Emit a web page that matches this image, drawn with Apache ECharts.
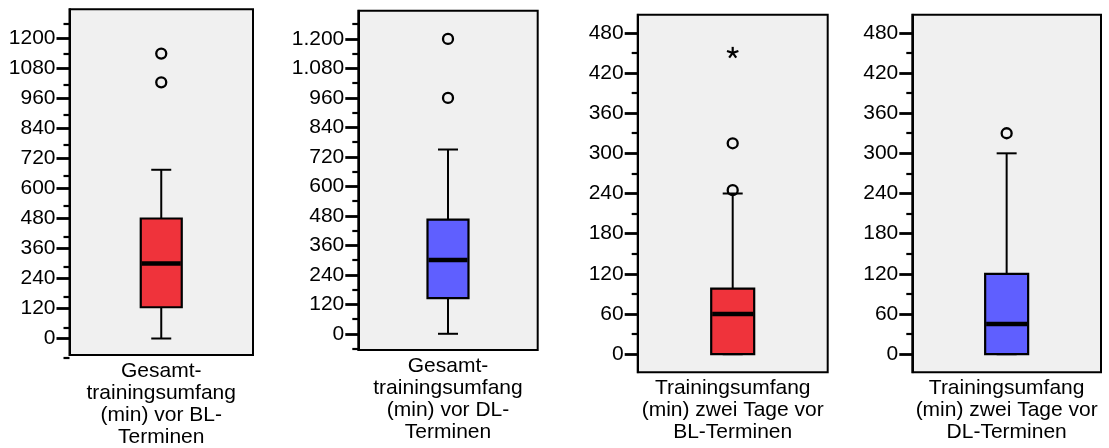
<!DOCTYPE html>
<html>
<head>
<meta charset="utf-8">
<script src="https://cdn.jsdelivr.net/npm/echarts@6/dist/echarts.min.js"></script>
<style>
  html, body { margin: 0; padding: 0; background: #ffffff; }
  #chart { width: 1109px; height: 448px; }
</style>
</head>
<body>
<div id="chart"></div>
<script>
// ---- data ----
const categories = [
  'Gesamt-\ntrainingsumfang\n(min) vor BL-\nTerminen',
  'Gesamt-\ntrainingsumfang\n(min) vor DL-\nTerminen',
  'Trainingsumfang\n(min) zwei Tage vor\nBL-Terminen',
  'Trainingsumfang\n(min) zwei Tage vor\nDL-Terminen'
];
// five-number summaries: [lower whisker, Q1, median, Q3, upper whisker]
const boxBL = [0, 125, 300, 480, 675];
const boxDL = [0, 145, 300, 465, 750];
const boxBL2 = [0, 0, 60, 98, 240];
const boxDL2 = [0, 0, 45, 120, 300];
// outliers (circles) and extreme values (asterisks)
const outBL = [1140, 1025];
const outDL = [1200, 960];
const outBL2 = [315, 245];
const outDL2 = [330];
const extBL2 = [450];

// axis ticks
const ticksTotal = [0, 120, 240, 360, 480, 600, 720, 840, 960, 1080, 1200];
const minorTotal = [-60, 60, 180, 300, 420, 540, 660, 780, 900, 1020, 1140, 1260];
const labelsTotalBL = ['0', '120', '240', '360', '480', '600', '720', '840', '960', '1080', '1200'];
const labelsTotalDL = ['0', '120', '240', '360', '480', '600', '720', '840', '960', '1.080', '1.200'];
const ticksTwoDays = [0, 60, 120, 180, 240, 300, 360, 420, 480];
const minorTwoDays = [30, 90, 150, 210, 270, 330, 390, 450];
const labelsTwoDays = ['0', '60', '120', '180', '240', '300', '360', '420', '480'];

// ---- panel setup ----
const RED = '#EF333B';
const BLUE = '#5F5FFF';
const FONT = "'Liberation Sans', Arial, sans-serif";

const panels = [
  { box: boxBL, out: outBL, ext: [], ticks: ticksTotal, minor: minorTotal, labels: labelsTotalBL,
    fill: RED, rect: { left: 69.5, top: 9.3, width: 183.5, height: 350 }, range: [-66, 1317], boxW: 41 },
  { box: boxDL, out: outDL, ext: [], ticks: ticksTotal, minor: minorTotal, labels: labelsTotalDL,
    fill: BLUE, rect: { left: 358.3, top: 10.7, width: 179.4, height: 339.3 }, range: [-66, 1315], boxW: 41 },
  { box: boxBL2, out: outBL2, ext: extBL2, ticks: ticksTwoDays, minor: minorTwoDays, labels: labelsTwoDays,
    fill: RED, rect: { left: 637.7, top: 14.7, width: 190, height: 357.6 }, range: [-27, 507], boxW: 43 },
  { box: boxDL2, out: outDL2, ext: [], ticks: ticksTwoDays, minor: minorTwoDays, labels: labelsTwoDays,
    fill: BLUE, rect: { left: 912.3, top: 14.7, width: 188.7, height: 357.6 }, range: [-27, 507], boxW: 43 }
];

const CAP_W = 20;

function lineEl(x1, y1, x2, y2, w) {
  return { type: 'line', shape: { x1, y1, x2, y2 }, style: { stroke: '#000', lineWidth: w } };
}

function boxRenderer(fill, boxW) {
  return function (params, api) {
    const c = api.value(0);
    const cx = api.coord([c, 0])[0];
    const y = d => api.coord([c, api.value(d)])[1];
    const yMin = y(1), yQ1 = y(2), yMed = y(3), yQ3 = y(4), yMax = y(5);
    const hw = boxW / 2, cw = CAP_W / 2;
    return {
      type: 'group',
      children: [
        lineEl(cx, yQ3, cx, yMax, 2),
        lineEl(cx - cw, yMax, cx + cw, yMax, 2),
        lineEl(cx, yQ1, cx, yMin, 2),
        lineEl(cx - cw, yMin, cx + cw, yMin, 2),
        { type: 'rect', shape: { x: cx - hw, y: yQ3, width: boxW, height: yQ1 - yQ3 },
          style: { fill: fill, stroke: '#000', lineWidth: 2.2 } },
        lineEl(cx - hw + 1, yMed, cx + hw - 1, yMed, 4.5)
      ]
    };
  };
}

// five-armed asterisk for extreme values
function asteriskRenderer(params, api) {
  const p = api.coord([api.value(0), api.value(1)]);
  const r = 6;
  const arms = [];
  for (let k = 0; k < 5; k++) {
    const a = -Math.PI / 2 + k * 2 * Math.PI / 5;
    arms.push(lineEl(p[0], p[1], p[0] + r * Math.cos(a), p[1] + r * Math.sin(a), 2.2));
  }
  return { type: 'group', children: arms };
}

const grids = [], xAxes = [], yAxes = [], series = [];

panels.forEach((p, i) => {
  // framed plot area with major ticks and labels
  grids.push(Object.assign({ show: true, backgroundColor: '#F0F0F0', borderColor: '#000', borderWidth: 2 }, p.rect));
  // overlay with the same rectangle carrying the minor ticks
  grids.push(Object.assign({ show: false }, p.rect));

  const gMain = 2 * i, gMinor = 2 * i + 1;

  xAxes.push({
    gridIndex: gMain, type: 'category', data: [categories[i]],
    axisLine: { show: false }, axisTick: { show: false }, splitLine: { show: false },
    axisLabel: { interval: 0, margin: 5, color: '#000', fontSize: 21, lineHeight: 22, fontFamily: FONT, align: 'center' }
  });
  xAxes.push({ gridIndex: gMinor, type: 'category', data: [categories[i]], show: false });

  yAxes.push({
    gridIndex: gMain, type: 'value', min: p.range[0], max: p.range[1], position: 'left',
    axisLine: { show: true, lineStyle: { color: '#000', width: 2 } },
    axisTick: { show: true, inside: false, length: 13, customValues: p.ticks, lineStyle: { color: '#000', width: 2.8 } },
    axisLabel: {
      show: true, margin: 14, color: '#000', fontSize: 21, fontFamily: FONT,
      customValues: p.ticks,
      formatter: v => { const k = p.ticks.indexOf(v); return k >= 0 ? p.labels[k] : ''; }
    },
    splitLine: { show: false }
  });
  yAxes.push({
    gridIndex: gMinor, type: 'value', min: p.range[0], max: p.range[1], position: 'left',
    axisLine: { show: false },
    axisTick: { show: true, inside: false, length: 6, customValues: p.minor, lineStyle: { color: '#000', width: 2.2 } },
    axisLabel: { show: false },
    splitLine: { show: false }
  });

  series.push({
    type: 'custom', xAxisIndex: gMain, yAxisIndex: gMain,
    renderItem: boxRenderer(p.fill, p.boxW),
    encode: { x: 0, y: [1, 2, 3, 4, 5] },
    data: [[0].concat(p.box)],
    z: 2
  });
  series.push({
    type: 'scatter', xAxisIndex: gMain, yAxisIndex: gMain,
    symbol: 'circle', symbolSize: 10,
    itemStyle: { color: 'rgba(0,0,0,0)', borderColor: '#000', borderWidth: 2.3, opacity: 1 },
    data: p.out.map(v => [0, v]),
    z: 3
  });
  if (p.ext.length) {
    series.push({
      type: 'custom', xAxisIndex: gMain, yAxisIndex: gMain,
      renderItem: asteriskRenderer,
      encode: { x: 0, y: 1 },
      data: p.ext.map(v => [0, v]),
      z: 3
    });
  }
});

const chart = echarts.init(document.getElementById('chart'), null, { renderer: 'canvas' });
chart.setOption({
  animation: false,
  backgroundColor: '#ffffff',
  grid: grids,
  xAxis: xAxes,
  yAxis: yAxes,
  series: series
});
</script>
</body>
</html>
